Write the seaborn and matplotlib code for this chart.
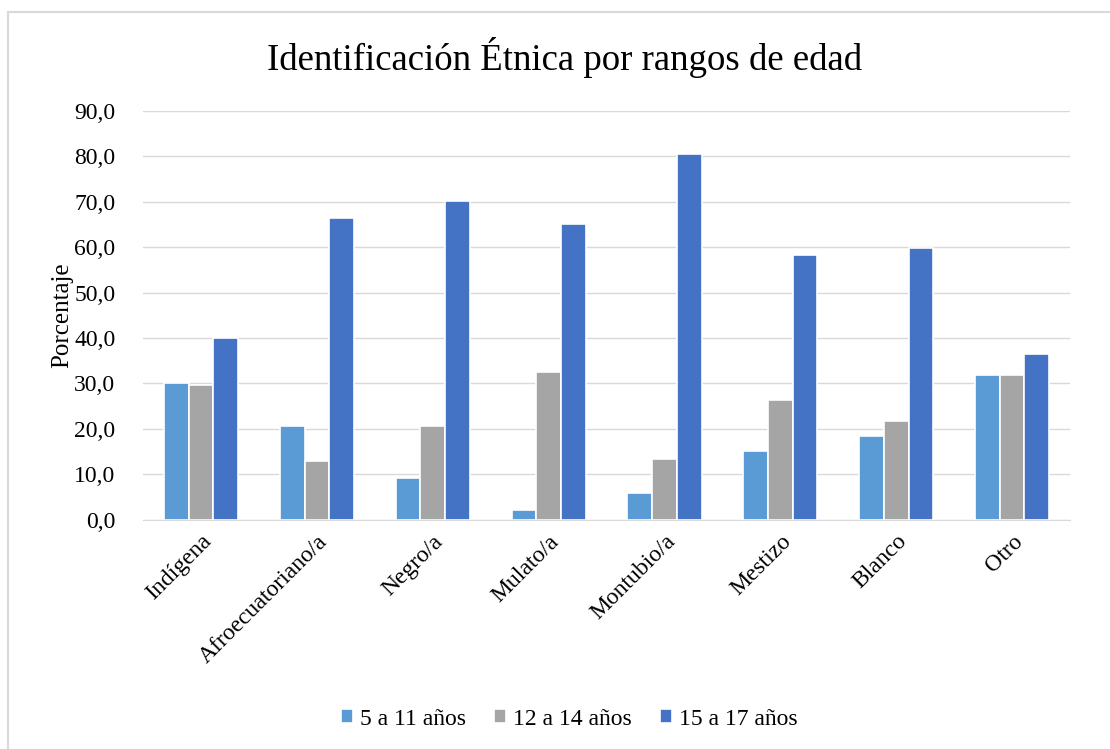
import matplotlib
matplotlib.use("Agg")
import matplotlib.pyplot as plt
import numpy as np
import pandas as pd
import seaborn as sns
from matplotlib.patches import Rectangle

categories = ["Indígena", "Afroecuatoriano/a", "Negro/a", "Mulato/a",
              "Montubio/a", "Mestizo", "Blanco", "Otro"]
age_groups = ["5 a 11 años", "12 a 14 años", "15 a 17 años"]
vals_5_11 = [30.2, 20.7, 9.2, 2.2, 5.9, 15.1, 18.5, 31.9]
vals_12_14 = [29.6, 12.9, 20.7, 32.5, 13.4, 26.3, 21.8, 31.9]
vals_15_17 = [40.0, 66.5, 70.1, 65.1, 80.5, 58.3, 59.8, 36.4]
colors = ["#5B9BD5", "#A5A5A5", "#4472C4"]

df = pd.DataFrame({
    "cat": categories * 3,
    "grupo": [age_groups[0]] * 8 + [age_groups[1]] * 8 + [age_groups[2]] * 8,
    "valor": vals_5_11 + vals_12_14 + vals_15_17,
})

sns.set_style("white")
plt.rcParams['font.family'] = ['Liberation Serif', 'DejaVu Serif']
plt.rcParams['text.color'] = 'black'
plt.rcParams['xtick.color'] = 'black'
plt.rcParams['ytick.color'] = 'black'
plt.rcParams['axes.labelcolor'] = 'black'

fig = plt.figure(figsize=(11.1, 7.49), dpi=100)
ax = fig.add_axes([0.129, 0.306, 0.835, 0.546])

sns.barplot(data=df, x="cat", y="valor", hue="grupo", palette=colors,
            saturation=1, width=0.64, edgecolor="white", linewidth=1.2, ax=ax)

ax.set_ylim(0, 90)
ax.set_yticks(np.arange(0, 91, 10))
ax.set_yticklabels([f"{v:.1f}".replace(".", ",") for v in np.arange(0, 91, 10)],
                   fontsize=17)
ax.yaxis.grid(True, color="#D9D9D9", linewidth=1)
ax.set_axisbelow(True)
for s in ["top", "right", "left"]:
    ax.spines[s].set_visible(False)
ax.spines["bottom"].set_color("#D9D9D9")
ax.tick_params(axis="y", length=0, pad=20)
ax.tick_params(axis="x", length=0, pad=8)
ax.set_xticks(range(len(categories)))
ax.set_xticklabels(categories, rotation=45, ha="right", rotation_mode="anchor",
                   fontsize=17)
ax.set_xlabel("")
ax.set_ylabel("Porcentaje", fontsize=18, labelpad=1)
ax.set_xlim(-0.5, 7.5)

fig.suptitle("Identificación Étnica por rangos de edad", fontsize=26.5,
             x=0.509, y=0.95)

ax.legend(loc="center", bbox_to_anchor=(0.513, 0.04), bbox_transform=fig.transFigure,
          ncol=3, frameon=False, fontsize=17, handlelength=0.5, handleheight=0.5,
          handletextpad=0.3, columnspacing=1.2)

fig.patches.append(Rectangle((8 / 1110, -0.05), 1.1, 1 - 12 / 749 + 0.05,
                             transform=fig.transFigure, fill=False,
                             edgecolor="#D9D9D9", linewidth=1.5))

fig.savefig("out.png", dpi=100, facecolor="white")
